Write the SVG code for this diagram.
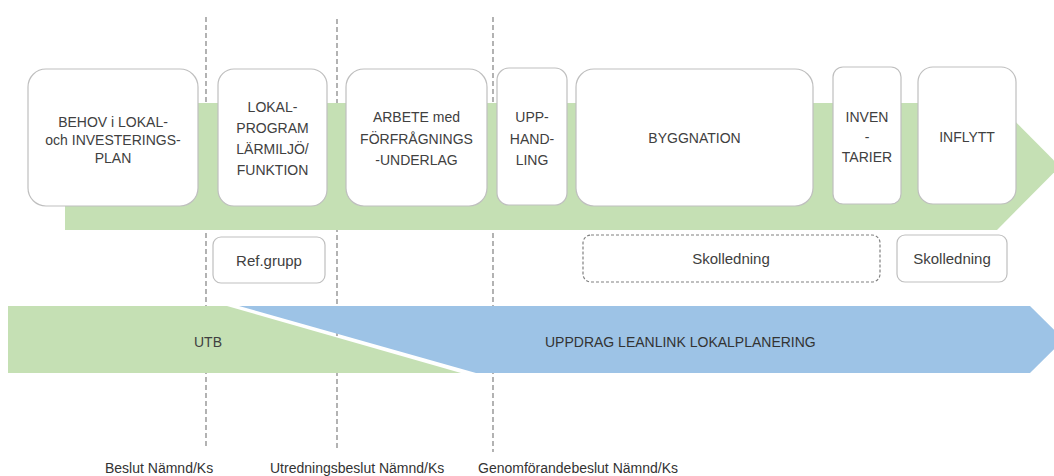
<svg xmlns="http://www.w3.org/2000/svg" width="1054" height="476" viewBox="0 0 1054 476">
<defs>
<style>
.t{font-family:"Liberation Sans",Arial,sans-serif;font-size:14px;fill:#404040;text-anchor:middle}
.ts{font-family:"Liberation Sans",Arial,sans-serif;font-size:15px;fill:#404040;text-anchor:middle}
.tb{font-family:"Liberation Sans",Arial,sans-serif;font-size:14px;fill:#333333}
.box{fill:#ffffff;stroke:#bfbfbf;stroke-width:1.2}
.dl{stroke:#808080;stroke-width:1.2;stroke-dasharray:5,3;fill:none}
</style>
</defs>
<rect width="1054" height="476" fill="#ffffff"/>
<g id="milestones">
<line class="dl" x1="206" y1="17" x2="206" y2="448"/>
<line class="dl" x1="337" y1="19" x2="337" y2="448"/>
<line class="dl" x1="493" y1="17" x2="493" y2="452"/>
</g>
<g id="process-arrow">
<polygon points="65,103 997,103 1060,166.5 997,230 65,230" fill="#c5e0b4"/>
</g>
<g id="node-behov">
<rect class="box" x="28" y="69" width="170" height="137" rx="18"/>
<text class="t" x="113" y="127">BEHOV i LOKAL-</text>
<text class="t" x="113" y="145">och INVESTERINGS-</text>
<text class="t" x="113" y="163">PLAN</text>
</g>
<g id="node-lokalprogram">
<rect class="box" x="218" y="69" width="109" height="137" rx="16"/>
<text class="t" x="272.5" y="112">LOKAL-</text>
<text class="t" x="272.5" y="133">PROGRAM</text>
<text class="t" x="272.5" y="154">LÄRMILJÖ/</text>
<text class="t" x="272.5" y="175">FUNKTION</text>
</g>
<g id="node-arbete">
<rect class="box" x="346" y="69" width="141" height="137" rx="18"/>
<text class="t" x="416.5" y="122">ARBETE  med</text>
<text class="t" x="416.5" y="144">FÖRFRÅGNINGS</text>
<text class="t" x="416.5" y="165">-UNDERLAG</text>
</g>
<g id="node-upphandling">
<rect class="box" x="497" y="68" width="70" height="137" rx="12"/>
<text class="t" x="532" y="122">UPP-</text>
<text class="t" x="532" y="144">HAND-</text>
<text class="t" x="532" y="165">LING</text>
</g>
<g id="node-byggnation">
<rect class="box" x="576" y="69" width="237" height="137" rx="18"/>
<text class="t" x="694.5" y="143">BYGGNATION</text>
</g>
<g id="node-inventarier">
<rect class="box" x="833" y="67" width="68" height="137" rx="10"/>
<text class="t" x="867" y="122">INVEN</text>
<text class="t" x="867" y="142">-</text>
<text class="t" x="867" y="162">TARIER</text>
</g>
<g id="node-inflytt">
<rect class="box" x="918" y="67" width="98" height="137" rx="15"/>
<text class="t" x="967" y="142">INFLYTT</text>
</g>
<g id="node-refgrupp">
<rect class="box" x="213" y="237" width="112" height="46" rx="8"/>
<text class="ts" x="269" y="266">Ref.grupp</text>
</g>
<g id="node-skolledning-1">
<rect x="583" y="235" width="297" height="47" rx="8" fill="#ffffff" stroke="#808080" stroke-width="1.2" stroke-dasharray="3,2"/>
<text class="ts" x="731" y="264">Skolledning</text>
</g>
<g id="node-skolledning-2">
<rect class="box" x="897" y="235" width="110" height="47" rx="8"/>
<text class="ts" x="952" y="264">Skolledning</text>
</g>
<g id="band-utb">
<polygon points="8,306 227,306 461,373 8,373" fill="#c5e0b4"/>
<text class="t" x="208" y="347">UTB</text>
</g>
<g id="band-uppdrag">
<polygon points="239,306 1030,306 1064,339.5 1030,373 476,373" fill="#9dc3e6"/>
<text class="tb" x="545" y="347">UPPDRAG  LEANLINK LOKALPLANERING</text>
</g>
<g id="labels">
<text class="tb" x="105" y="473">Beslut Nämnd/Ks</text>
<text class="tb" x="270" y="473">Utredningsbeslut Nämnd/Ks</text>
<text class="tb" x="478" y="473">Genomförandebeslut Nämnd/Ks</text>
</g>
</svg>
